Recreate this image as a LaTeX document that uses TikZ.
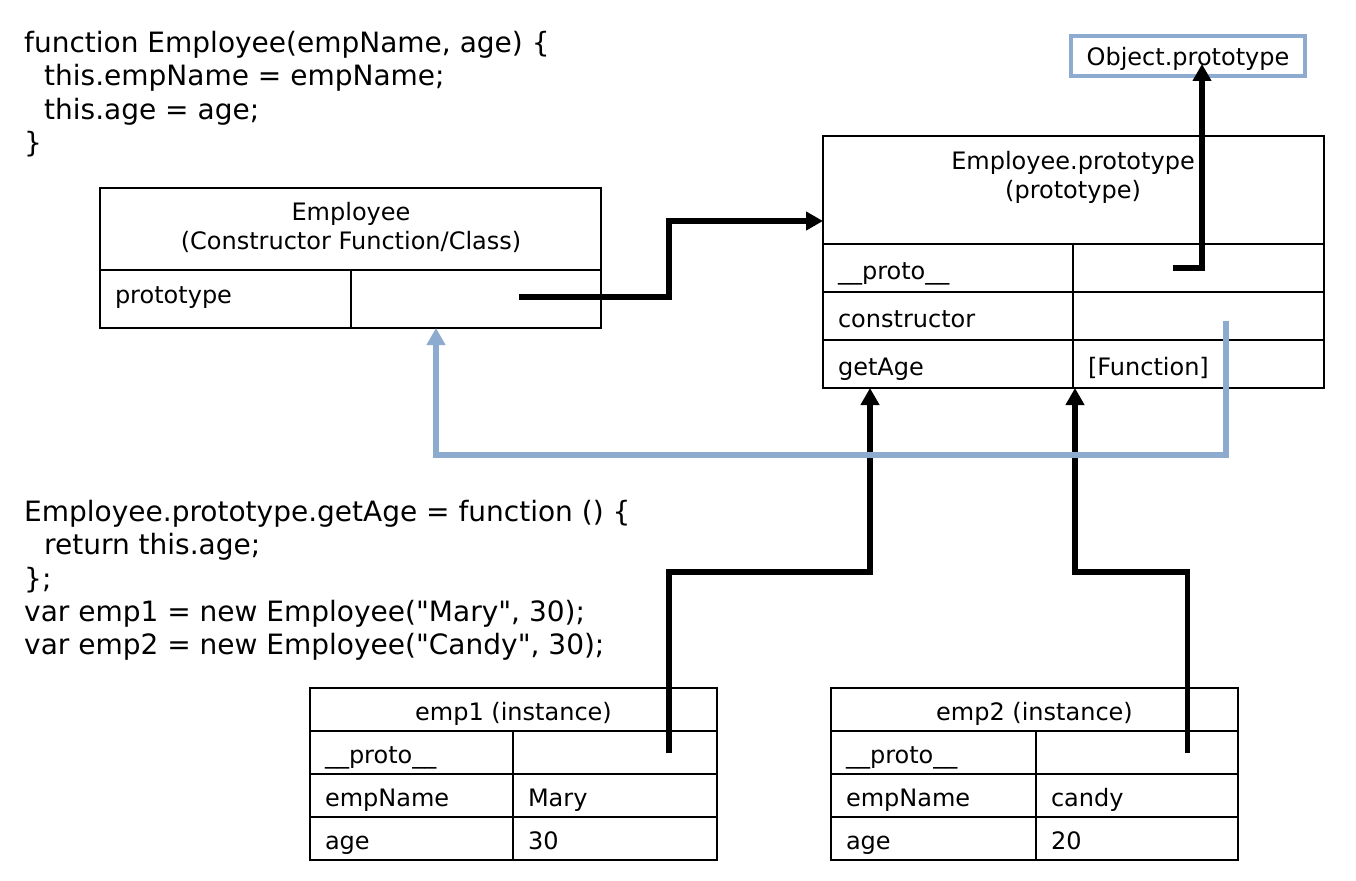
\documentclass[tikz,border=0pt]{standalone}
\usepackage{fontspec}
\setmainfont{DejaVu Sans}
\newfontfamily\codefont{DejaVu Sans}
\usetikzlibrary{arrows.meta,calc}
\definecolor{linkblue}{RGB}{141,170,207}
\begin{document}
\begin{tikzpicture}[x=1pt,y=-1pt,
  cell/.style={draw=black,line width=1.6pt,inner sep=0pt,outer sep=0pt,anchor=north west,
    font=\fontsize{24}{29}\selectfont,text height=22pt,text depth=0pt},
  lcell/.style={cell,align=left,inner xsep=15pt,text width=#1-30pt,minimum width=#1},
  ccell/.style={cell,align=center,minimum width=#1},
  label text/.style={inner sep=0pt,align=center,font=\fontsize{24}{29}\selectfont},
  code/.style={anchor=north west,align=left,inner sep=0pt,
    font=\codefont\fontsize{28}{33.3}\selectfont},
  ptr/.style={line width=5.5pt,line join=miter,
    -{Triangle[length=17pt,width=18pt]}},
  bptr/.style={ptr,draw=linkblue,line width=5.8pt}]
\useasboundingbox (0,0) rectangle (1356,880);
\fill[white] (0,0) rectangle (1356,880);

% source code
\node[code] (code1) at (24,31) {function Employee(empName, age) \{\\
\hspace*{20pt}this.empName = empName;\\
\hspace*{20pt}this.age = age;\\
\}};
\node[code] (code2) at (24,500) {Employee.prototype.getAge = function () \{\\
\hspace*{20pt}return this.age;\\
\};\\
var emp1 = new Employee("Mary", 30);\\
var emp2 = new Employee("Candy", 30);};

% Object.prototype
\node[draw=linkblue,line width=3.4pt,minimum width=234pt,minimum height=40pt,
  inner sep=0pt,outer sep=0pt,anchor=north west,font=\fontsize{24}{29}\selectfont,
  text height=20pt,text depth=0pt]
  (objproto) at (1071,36) {Object.prototype};

% Employee constructor
\node[cell,minimum width=501pt,minimum height=82pt] (emphead) at (100,188) {};
\node[label text] (emptxt) at (351,227) {Employee\\(Constructor Function/Class)};
\node[lcell=251pt,minimum height=58pt,text depth=14pt] (empk) at (100,270) {prototype};
\node[cell,minimum width=250pt,minimum height=58pt] (empv) at (351,270) {};

% Employee.prototype
\node[cell,minimum width=501pt,minimum height=108pt] (phead) at (823,136) {};
\node[label text] (ptxt) at (1073,177) {Employee.prototype\\(prototype)};
\node[lcell=250pt,minimum height=48pt] (pk1) at (823,244) {\_\_proto\_\_};
\node[cell,minimum width=251pt,minimum height=48pt] (pv1) at (1073,244) {};
\node[lcell=250pt,minimum height=48pt] (pk2) at (823,292) {constructor};
\node[cell,minimum width=251pt,minimum height=48pt] (pv2) at (1073,292) {};
\node[lcell=250pt,minimum height=48pt] (pk3) at (823,340) {getAge};
\node[lcell=251pt,minimum height=48pt] (pv3) at (1073,340) {[Function]};

% instances
\foreach \n/\x/\nm/\ag/\w in {1/310/Mary/30/203, 2/831/candy/20/205}{
  \node[ccell=407pt,minimum height=43pt] (e\n head) at (\x,688) {emp\n\ (instance)};
  \node[lcell=\w pt,minimum height=43pt] (e\n k1) at (\x,731) {\_\_proto\_\_};
  \node[cell,minimum width=407pt-\w pt,minimum height=43pt,anchor=north east]
    (e\n v1) at (\x+407,731) {};
  \node[lcell=\w pt,minimum height=43pt] (e\n k2) at (\x,774) {empName};
  \node[lcell=407pt-\w pt,minimum height=43pt,anchor=north east]
    (e\n v2) at (\x+407,774) {\nm};
  \node[lcell=\w pt,minimum height=43pt] (e\n k3) at (\x,817) {age};
  \node[lcell=407pt-\w pt,minimum height=43pt,anchor=north east]
    (e\n v3) at (\x+407,817) {\ag};
}

% pointer start points inside the value cells, and the tip inside Object.prototype
\coordinate (s0) at ($(empv.center)+(43,-2)$);
\coordinate (s1) at ($(pv1.center)+(-26,0)$);
\coordinate (s2) at ($(pv2.center)+(27.5,5)$);
\coordinate (s3) at ($(e1v1.center)+(54,0)$);
\coordinate (s4) at ($(e2v1.center)+(50.5,0)$);
\coordinate (otip) at ($(objproto.center)+(14,8)$);

% prototype links
\draw[ptr] (s0) -- (669,297) -- (669,221) -- (phead.west |- 0,221);
\draw[ptr] (s1) -- (otip |- s1) -- (otip);
\draw[ptr] (s3) -- (669,572) -- (870,572) -- (870,388);
\draw[ptr] (s4) -- (s4 |- 0,572) -- (1075,572) -- (1075,388);
\draw[bptr] (s2) -- (s2 |- 0,455) -- (436,455) -- (empv.south -| 436,0);
\end{tikzpicture}
\end{document}
